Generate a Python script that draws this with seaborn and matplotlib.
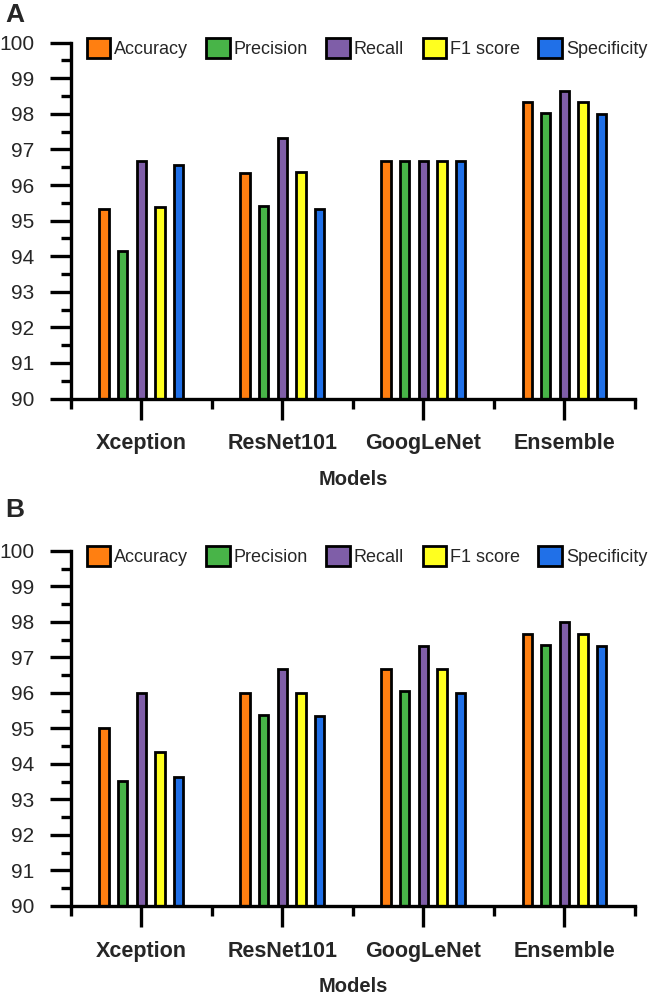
import matplotlib
matplotlib.use("Agg")
import matplotlib.pyplot as plt
import seaborn as sns
import pandas as pd
from matplotlib.patches import Patch
from matplotlib.ticker import FixedLocator

models = ["Xception", "ResNet101", "GoogLeNet", "Ensemble"]
metrics = ["Accuracy", "Precision", "Recall", "F1 score", "Specificity"]

a_accuracy = [95.33, 96.33, 96.67, 98.33]
a_precision = [94.15, 95.42, 96.67, 98.02]
a_recall = [96.67, 97.32, 96.67, 98.65]
a_f1 = [95.39, 96.37, 96.67, 98.33]
a_specificity = [96.57, 95.33, 96.67, 98.00]

b_accuracy = [95.00, 96.00, 96.67, 97.67]
b_precision = [93.51, 95.39, 96.04, 97.34]
b_recall = [96.00, 96.67, 97.33, 98.00]
b_f1 = [94.33, 96.00, 96.67, 97.67]
b_specificity = [93.63, 95.34, 96.00, 97.32]

colors = ["#FF7F11", "#48B448", "#7F5EA8", "#FFFF1F", "#2070E8"]
yticks = list(range(90, 101))

sns.set_style("ticks")
plt.rcParams["font.family"] = ["Liberation Sans", "DejaVu Sans"]


def to_long(series):
    rows = []
    for metric, vals in zip(metrics, series):
        for m, v in zip(models, vals):
            rows.append({"Model": m, "Metric": metric, "Value": v})
    return pd.DataFrame(rows)


df_a = to_long([a_accuracy, a_precision, a_recall, a_f1, a_specificity])
df_b = to_long([b_accuracy, b_precision, b_recall, b_f1, b_specificity])

fig = plt.figure(figsize=(6.5, 9.97), dpi=100)
ax_a = fig.add_axes([0.1088, 0.6003, 0.868, 0.3569])
ax_b = fig.add_axes([0.1088, 0.0913, 0.868, 0.3563])

palette = dict(zip(metrics, colors))

for ax, df, letter, ly in [(ax_a, df_a, "A", 15), (ax_b, df_b, "B", 510)]:
    sns.barplot(data=df, x="Model", y="Value", hue="Metric", order=models,
                hue_order=metrics, palette=palette, width=0.66, gap=0.5,
                edgecolor="black", linewidth=2.0, saturation=1, legend=False,
                ax=ax, zorder=2)
    ax.set_ylim(90, 100)
    ax.set_xlim(-0.5, 3.5)
    ax.set_yticks(yticks)
    ax.set_yticklabels([str(t) for t in yticks], fontsize=15)
    ax.yaxis.set_minor_locator(FixedLocator([t + 0.5 for t in yticks[:-1]]))
    ax.xaxis.set_minor_locator(FixedLocator([-0.5, 0.5, 1.5, 2.5, 3.5]))
    ax.set_xticks(range(len(models)))
    ax.set_xticklabels(models, fontsize=15.5, fontweight="bold")
    ax.tick_params(axis="both", which="major", length=15, width=2.4,
                   direction="out", color="black")
    ax.tick_params(axis="both", which="minor", length=7.5, width=2.4,
                   direction="out", color="black")
    ax.tick_params(axis="y", which="major", pad=11)
    ax.tick_params(axis="x", which="major", pad=10)
    for s in ["top", "right"]:
        ax.spines[s].set_visible(False)
    for s in ["left", "bottom"]:
        ax.spines[s].set_linewidth(2.4)
        ax.spines[s].set_color("black")
    ax.set_ylabel("")
    ax.set_xlabel("Models", fontsize=14.5, fontweight="bold", labelpad=11)
    handles = [Patch(facecolor=c, edgecolor="black", linewidth=2.0, label=m)
               for c, m in zip(colors, metrics)]
    ax.legend(handles=handles, ncol=5, loc="center left",
              bbox_to_anchor=(0.028, 0.985), frameon=False, fontsize=13,
              handlelength=1.3, handleheight=1.3, handletextpad=0.22,
              columnspacing=1.02, borderaxespad=0, borderpad=0)
    fig.text(5 / 650, 1 - ly / 997, letter, fontsize=19, fontweight="bold",
             ha="left", va="center")

fig.savefig("out.png", dpi=100)
